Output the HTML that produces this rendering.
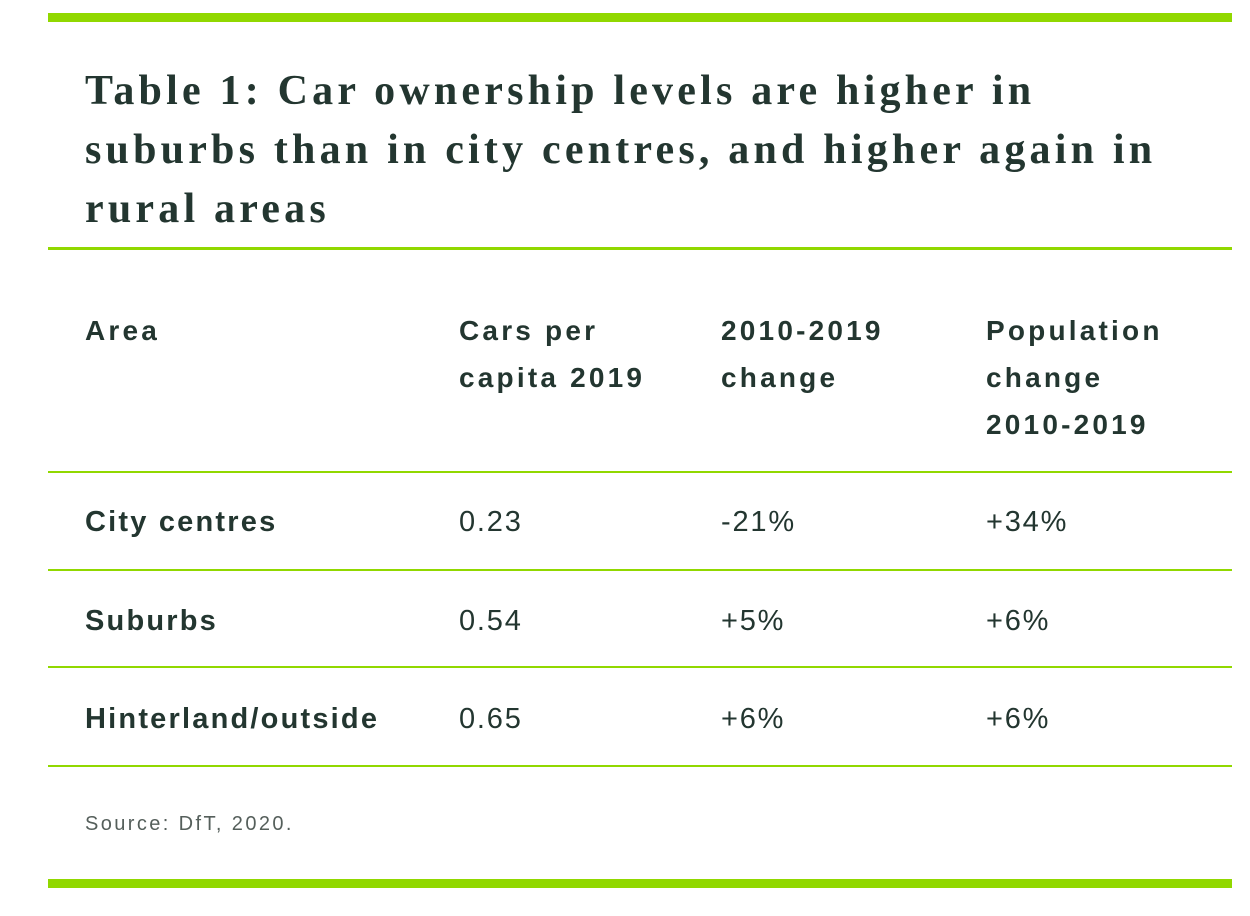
<!DOCTYPE html>
<html><head><meta charset="utf-8"><style>
body{margin:0;width:1250px;height:916px;background:#fff;position:relative;overflow:hidden;color:#233630;font-family:"Liberation Sans",sans-serif}
.bar{position:absolute;left:48px;width:1184px;background:#91d800}
.line{position:absolute;left:48px;width:1184px;height:2px;background:#91d800}
h1{position:absolute;left:85px;top:62px;margin:0;font-family:"Liberation Serif",serif;font-weight:bold;font-size:42px;line-height:59px;letter-spacing:4.2px;white-space:nowrap}
.t{position:absolute;font-size:28px;line-height:47px;font-weight:bold;letter-spacing:3.2px;white-space:nowrap}
.v{position:absolute;font-size:29px;line-height:30px;letter-spacing:1.8px;white-space:nowrap}
.b{font-weight:bold;letter-spacing:2.2px}
</style></head><body>
<div class="bar" style="top:13px;height:9px"></div>
<h1>Table 1: Car ownership levels are higher in<br>suburbs than in city centres, and higher again in<br>rural areas</h1>
<div class="line" style="top:247px;height:3px"></div>
<div class="t" style="left:85px;top:307px">Area</div>
<div class="t" style="left:459px;top:307px">Cars per<br>capita 2019</div>
<div class="t" style="left:721px;top:307px">2010-2019<br>change</div>
<div class="t" style="left:986px;top:307px">Population<br>change<br>2010-2019</div>
<div class="line" style="top:471px"></div>
<div class="v b" style="left:85px;top:507px">City centres</div>
<div class="v" style="left:459px;top:507px">0.23</div>
<div class="v" style="left:721px;top:507px">-21%</div>
<div class="v" style="left:986px;top:507px">+34%</div>
<div class="line" style="top:569px"></div>
<div class="v b" style="left:85px;top:606px">Suburbs</div>
<div class="v" style="left:459px;top:606px">0.54</div>
<div class="v" style="left:721px;top:606px">+5%</div>
<div class="v" style="left:986px;top:606px">+6%</div>
<div class="line" style="top:666px"></div>
<div class="v b" style="left:85px;top:704px">Hinterland/outside</div>
<div class="v" style="left:459px;top:704px">0.65</div>
<div class="v" style="left:721px;top:704px">+6%</div>
<div class="v" style="left:986px;top:704px">+6%</div>
<div class="line" style="top:765px"></div>
<div style="position:absolute;left:85px;top:813px;font-size:20px;color:#555f5b;letter-spacing:2.4px;white-space:nowrap">Source: DfT, 2020.</div>
<div class="bar" style="top:879px;height:9px"></div>
</body></html>
